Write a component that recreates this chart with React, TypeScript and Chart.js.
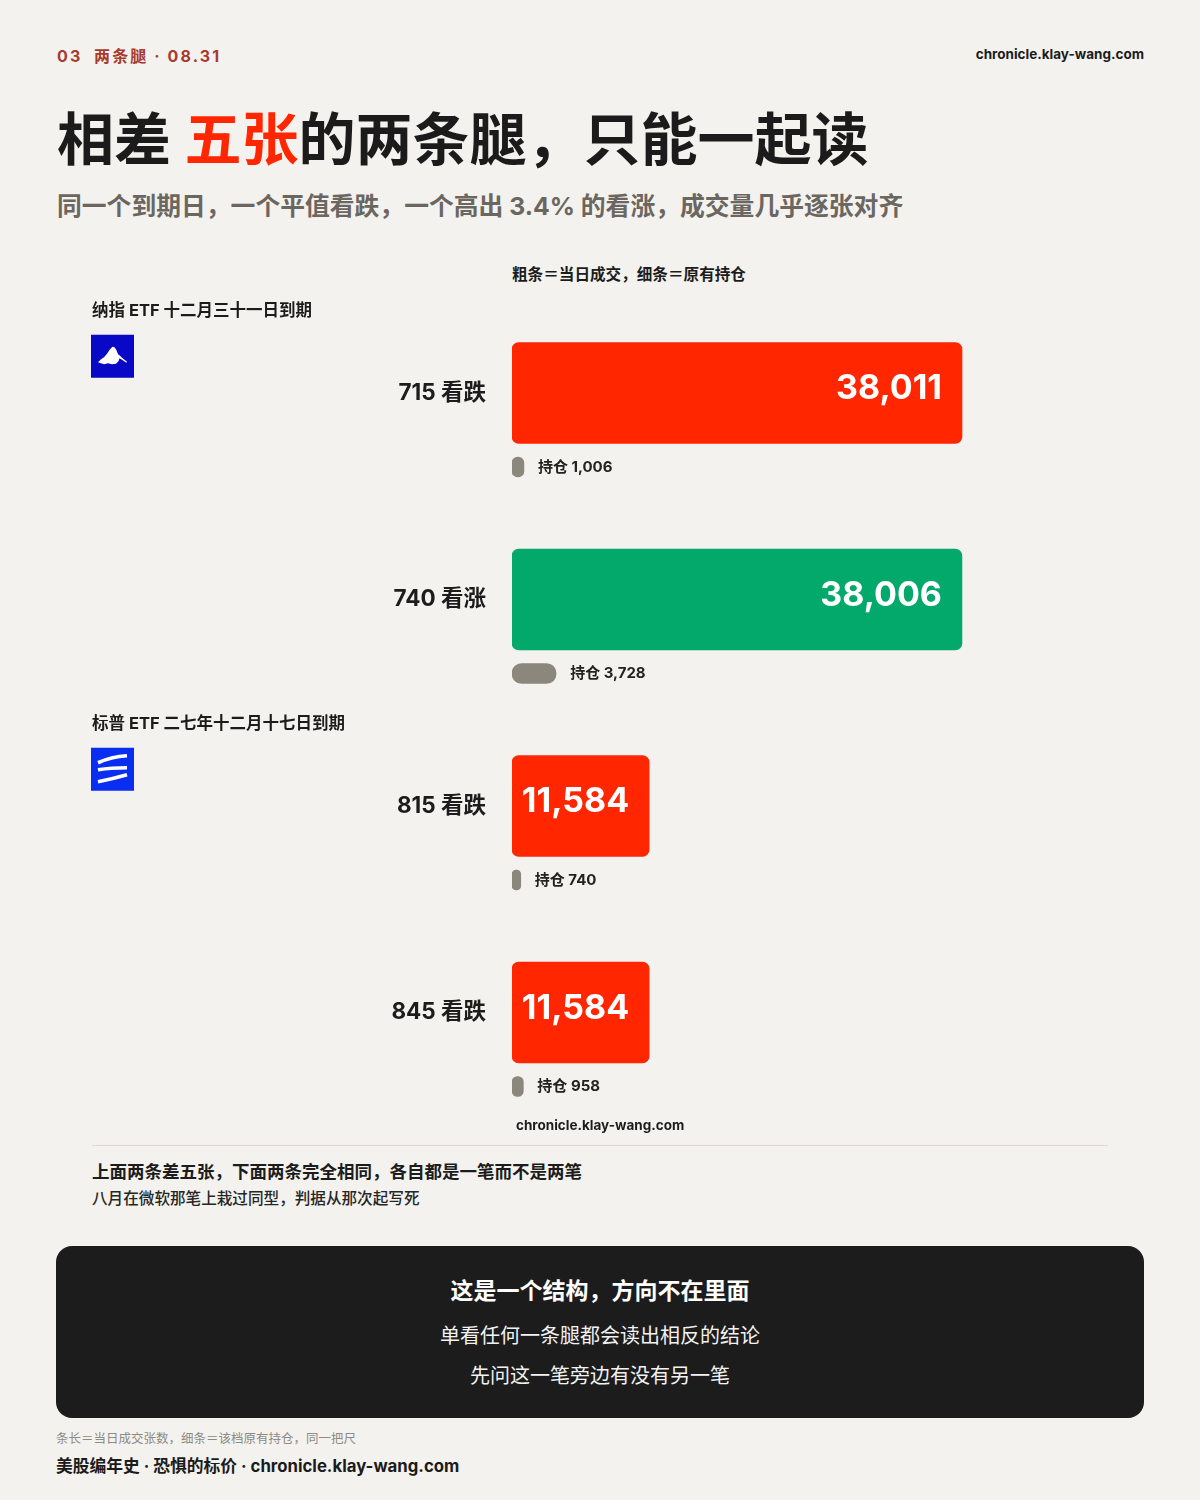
import React, { useEffect, useRef } from 'react';
import { Chart, registerables } from 'chart.js';

Chart.register(...registerables);

// ---------- data ----------
const categories = ['715 看跌', '740 看涨', '815 看跌', '845 看跌'];
const dailyVolume = [38011, 38006, 11584, 11584];
const openInterest = [1006, 3728, 740, 958];
const optionSide = ['put', 'call', 'put', 'put'];
const groupNames = ['纳指 ETF 十二月三十一日到期', '标普 ETF 二七年十二月十七日到期'];
const groupStartIndex = [0, 2];
const groupIcons = ['mountain', 'stripes'];
const xAxisMax = 40000;

// ---------- styles ----------
const FONT = "Inter, 'Noto Sans CJK SC', sans-serif";
const RED = '#ff2600';
const GREEN = '#03a96b';
const GRAY = '#8b877d';
const INK = '#1c1c1c';
const BG = '#f3f2ee';

const THIN_SHIFT = 74 / 206.5;

function drawIcon(ctx: CanvasRenderingContext2D, kind: string, x: number, y: number, s: number) {
  const k = s / 43;
  ctx.save();
  ctx.translate(x, y);
  ctx.scale(k, k);
  if (kind === 'mountain') {
    ctx.fillStyle = '#0808c6';
    ctx.fillRect(0, 0, 43, 43);
    ctx.fillStyle = '#ffffff';
    const pts = [
      [7, 27.5], [10, 24.5], [13, 22.5], [16, 19], [19, 14.5], [21.5, 12], [23.5, 12.5], [25.5, 15.5],
      [27, 19.5], [29, 21], [31, 23], [36, 27], [35.5, 28], [31, 25], [28.5, 23.5], [27.5, 26.5],
      [25, 29], [21, 29.5], [17, 28.5], [13, 29.5], [10, 28.5],
    ];
    ctx.beginPath();
    pts.forEach((p, i) => (i === 0 ? ctx.moveTo(p[0], p[1]) : ctx.lineTo(p[0], p[1])));
    ctx.closePath();
    ctx.fill();
  } else {
    ctx.fillStyle = '#0a2df2';
    ctx.fillRect(0, 0, 43, 43);
    ctx.strokeStyle = '#ffffff';
    ctx.lineWidth = 3.6;
    ctx.lineCap = 'butt';
    const lines = [
      [7, 15, 20, 9, 36, 8],
      [7, 22, 20, 20, 36, 20],
      [7, 34, 22, 31, 36, 27],
    ];
    lines.forEach((l) => {
      ctx.beginPath();
      ctx.moveTo(l[0], l[1]);
      ctx.quadraticCurveTo(l[2], l[3], l[4], l[5]);
      ctx.stroke();
    });
  }
  ctx.restore();
}

const annotatePlugin = {
  id: 'annotate',
  afterDatasetsDraw(chart: any) {
    const ctx: CanvasRenderingContext2D = chart.ctx;
    const thick = chart.getDatasetMeta(0).data;
    const thin = chart.getDatasetMeta(1).data;
    ctx.save();
    ctx.textBaseline = 'middle';
    thick.forEach((bar: any, i: number) => {
      ctx.font = `bold 34px ${FONT}`;
      ctx.fillStyle = '#ffffff';
      ctx.textAlign = 'right';
      ctx.fillText(dailyVolume[i].toLocaleString('en-US'), bar.x - 20, bar.y - 4);
    });
    thin.forEach((bar: any, i: number) => {
      ctx.font = `bold 15px ${FONT}`;
      ctx.fillStyle = '#222222';
      ctx.textAlign = 'left';
      ctx.fillText('持仓 ' + openInterest[i].toLocaleString('en-US'), bar.x + 14, bar.y);
    });
    const yScale = chart.scales.y;
    const band = (yScale.bottom - yScale.top) / categories.length;
    groupStartIndex.forEach((idx, g) => {
      const top = yScale.getPixelForValue(idx) - band / 2;
      ctx.font = `bold 16.5px ${FONT}`;
      ctx.fillStyle = INK;
      ctx.textAlign = 'left';
      ctx.fillText(groupNames[g], 92, top + 21);
      drawIcon(ctx, groupIcons[g], 91, top + 45, 43);
    });
    ctx.restore();
  },
};

function BarChart() {
  const ref = useRef<HTMLCanvasElement | null>(null);
  useEffect(() => {
    if (!ref.current) return;
    const chart = new Chart(ref.current, {
      type: 'bar',
      data: {
        labels: categories,
        datasets: [
          {
            label: '当日成交',
            data: dailyVolume,
            backgroundColor: optionSide.map((s) => (s === 'call' ? GREEN : RED)),
            barThickness: 101,
            grouped: false,
            borderRadius: 7,
            borderSkipped: false,
            xAxisID: 'x',
            yAxisID: 'y',
          } as any,
          {
            label: '原有持仓',
            data: openInterest.map((v, i) => ({ x: v, y: i + THIN_SHIFT })),
            backgroundColor: GRAY,
            barThickness: 20,
            grouped: false,
            borderRadius: 10,
            borderSkipped: false,
            xAxisID: 'x',
            yAxisID: 'y2',
          } as any,
        ],
      },
      options: {
        indexAxis: 'y',
        animation: false,
        responsive: false,
        maintainAspectRatio: false,
        layout: { padding: { top: 39.75, bottom: 44.25, left: 0, right: 688 - (xAxisMax * 450) / 38011 } },
        plugins: { legend: { display: false }, tooltip: { enabled: false } },
        scales: {
          x: { type: 'linear', min: 0, max: xAxisMax, display: false },
          y: {
            type: 'category',
            position: 'left',
            grid: { display: false, drawTicks: false },
            border: { display: false },
            ticks: { padding: 26, color: INK, font: { family: FONT, size: 22.5, weight: 'bold' } },
            afterFit: (s: any) => {
              s.width = 512;
              s.paddingTop = 0;
              s.paddingBottom = 0;
            },
          },
          y2: {
            type: 'linear',
            display: false,
            offset: false,
            grid: { offset: false },
            min: -0.5,
            max: categories.length - 0.5,
            reverse: true,
          },
        },
      } as any,
      plugins: [annotatePlugin],
    });
    return () => chart.destroy();
  }, []);
  return (
    <canvas
      ref={ref}
      width={1200}
      height={910}
      style={{ position: 'absolute', left: 0, top: 250, width: 1200, height: 910 }}
    />
  );
}

const abs = (top: number, left: number, size: number, lh: number, extra: React.CSSProperties = {}): React.CSSProperties => ({
  position: 'absolute',
  top,
  left,
  fontSize: size,
  lineHeight: `${lh}px`,
  whiteSpace: 'pre',
  fontFamily: FONT,
  ...extra,
});

export default function App() {
  useEffect(() => {
    document.body.style.margin = '0';
    document.body.style.background = BG;
  }, []);
  return (
    <div style={{ position: 'relative', width: 1200, height: 1500, background: BG, overflow: 'hidden', color: INK, fontFamily: FONT }}>
      <div style={abs(46, 57, 16, 20, { fontWeight: 700, color: '#a83a2e', letterSpacing: 2.1 })}>{'03  两条腿 · 08.31'}</div>
      <div style={{ ...abs(45, 0, 13.5, 18, { fontWeight: 700 }), left: 'auto', right: 56 }}>chronicle.klay-wang.com</div>
      <div style={abs(105, 57, 57, 70, { fontWeight: 700, color: '#1b1b1b' })}>
        相差 <span style={{ color: RED }}>五张</span>的两条腿，只能一起读
      </div>
      <div style={abs(190, 57, 24.8, 32, { fontWeight: 700, color: '#6b665f' })}>
        同一个到期日，一个平值看跌，一个高出 3.4% 的看涨，成交量几乎逐张对齐
      </div>
      <div style={abs(265, 512, 15.6, 20, { fontWeight: 700 })}>粗条＝当日成交，细条＝原有持仓</div>

      <BarChart />

      <div style={abs(1116, 516, 13.5, 18, { fontWeight: 700 })}>chronicle.klay-wang.com</div>
      <div style={{ position: 'absolute', top: 1145, left: 92, width: 1016, height: 1, background: '#dcd9d2' }} />
      <div style={abs(1160, 92, 17.5, 24, { fontWeight: 700 })}>上面两条差五张，下面两条完全相同，各自都是一笔而不是两笔</div>
      <div style={abs(1188, 92, 15.6, 22, { fontWeight: 500, color: '#262626' })}>八月在微软那笔上栽过同型，判据从那次起写死</div>

      <div style={{ position: 'absolute', top: 1246, left: 56, width: 1088, height: 172, borderRadius: 16, background: '#1c1c1c', color: '#ffffff', textAlign: 'center' }}>
        <div style={{ position: 'absolute', top: 30, left: 0, right: 0, fontSize: 23, lineHeight: '30px', fontWeight: 700 }}>这是一个结构，方向不在里面</div>
        <div style={{ position: 'absolute', top: 76, left: 0, right: 0, fontSize: 20, lineHeight: '28px', fontWeight: 400, color: '#f2f2f2' }}>单看任何一条腿都会读出相反的结论</div>
        <div style={{ position: 'absolute', top: 116, left: 0, right: 0, fontSize: 20, lineHeight: '28px', fontWeight: 400, color: '#f2f2f2' }}>先问这一笔旁边有没有另一笔</div>
      </div>

      <div style={abs(1430, 56, 12.5, 18, { color: '#8e8a84' })}>条长＝当日成交张数，细条＝该档原有持仓，同一把尺</div>
      <div style={abs(1454, 56, 16.75, 24, { fontWeight: 700, color: '#1b1b1b' })}>美股编年史 · 恐惧的标价 · chronicle.klay-wang.com</div>
    </div>
  );
}
